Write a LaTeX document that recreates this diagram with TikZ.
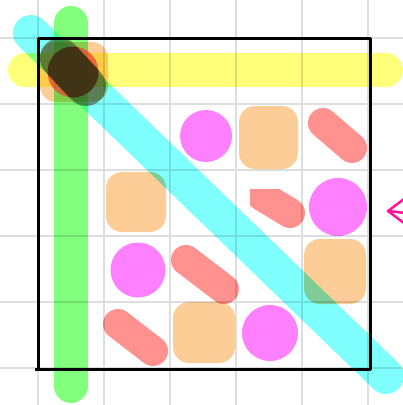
\documentclass[tikz,border=0pt]{standalone}
\definecolor{gridc}{RGB}{222,222,222}
\definecolor{hlyellow}{RGB}{255,255,122}
\definecolor{hlgreen}{RGB}{130,255,125}
\definecolor{hlcyan}{RGB}{128,255,255}
\definecolor{capmag}{RGB}{255,128,255}
\definecolor{capred}{RGB}{255,145,142}
\definecolor{sqorange}{RGB}{252,205,150}
\definecolor{pinkc}{RGB}{255,20,150}
\definecolor{darkc}{RGB}{56,48,20}
\definecolor{redc}{RGB}{235,70,50}
\begin{document}
\begin{tikzpicture}[x=1pt,y=-1pt,
  mult/.style={blend mode=multiply},
  capsule/.style={draw=capred, line width=30pt, line cap=round, mult},
  blob/.style={fill=capmag, mult},
  tile/.style={fill=sqorange, rounded corners=16pt, mult},
  stripe/.style={line width=34pt, line cap=round, mult},
  gridline/.style={draw=gridc, line width=1.5pt}]
\useasboundingbox (0,0) rectangle (403,405);
\fill[white] (0,0) rectangle (403,405);
% grid
\foreach \v in {38,104,170,236,302,368} {
  \draw[gridline] (\v,0) -- (\v,405);
  \draw[gridline] (0,\v) -- (403,\v);
}
% row 2
\fill[blob] (206,136) circle (26);
\fill[tile] (239,106) rectangle (298,169);
\draw[capsule] (323,123) -- (352,148);
% row 3
\fill[tile] (106,172) rectangle (166,232);
\begin{scope}
  \clip (250,189) rectangle (330,240);
  \draw[capsule] (262,196) -- (290,213);
\end{scope}
\fill[blob] (338,207) circle (29);
% row 4
\fill[blob] (138,270) circle (27.5);
\draw[capsule] (186,260) -- (224,289);
\fill[tile] (304,239) rectangle (366,304);
% row 5
\draw[capsule] (118,324) -- (153,351);
\fill[tile] (173,302) rectangle (235,363);
\fill[blob] (270,333) circle (28);
% top-left combined cell
\fill[tile] (40,42) rectangle (108,102);
% stripes
\draw[stripe, draw=hlyellow] (25,70) -- (386,70);
\draw[stripe, draw=hlgreen] (71,23) -- (71,386);
\draw[stripe, draw=hlcyan, line width=36pt] (31,33) -- (386,376);
% top-left overlays
\fill[redc, opacity=0.75] (73,72) circle (25.5);
\draw[darkc, opacity=0.5, line width=40pt, line cap=round] (60,58) -- (86,86);
\begin{scope}
  \clip (73,72) circle (25.5);
  \draw[darkc, opacity=0.85, line width=40pt, line cap=round] (60,58) -- (86,86);
\end{scope}
% frame
\draw[black, line width=3pt, line join=round] (38,38) -- (370,38) -- (370,369) -- (35,369);
\draw[black, line width=3pt] (38,38) -- (38,369);
% arrow
\draw[pinkc, line width=2.5pt, line cap=round, line join=round]
  (404,199) -- (388,211) -- (404,223);
\draw[pinkc, line width=2.5pt, line cap=round] (389,211) -- (405,213);
\end{tikzpicture}
\end{document}
